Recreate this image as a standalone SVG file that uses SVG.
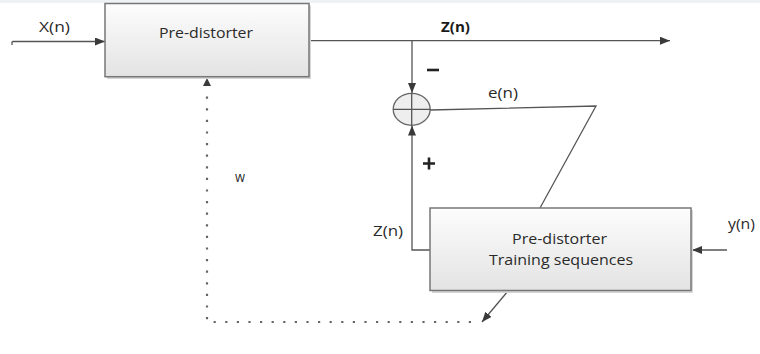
<svg xmlns="http://www.w3.org/2000/svg" width="760" height="354" viewBox="0 0 760 354">
  <defs>
    <linearGradient id="boxfill" x1="0" y1="0" x2="0" y2="1">
      <stop offset="0" stop-color="#fdfdfd"/>
      <stop offset="1" stop-color="#e3e3e3"/>
    </linearGradient>
    <marker id="arr" viewBox="0 0 10 8" refX="10" refY="4" markerWidth="10" markerHeight="8" markerUnits="userSpaceOnUse" orient="auto">
      <path d="M0,0 L10,4 L0,8 Z" fill="#3a3a3a"/>
    </marker>
    <style>
      .box { fill: url(#boxfill); stroke: #777; stroke-width: 1.5; }
      .shadow { fill: #d6d6d6; }
      .ln { fill: none; stroke: #555; stroke-width: 1.3; }
      .dot { fill: none; stroke: #666; stroke-width: 2.2; stroke-dasharray: 2.2 9.4; }
      .t { font-family: "Open Sans", "Noto Sans", sans-serif; font-size: 14px; fill: #2a2a2a; }
      .tb { font-family: "Open Sans", "Noto Sans", sans-serif; font-size: 14px; font-weight: bold; fill: #1a1a1a; }
      .sign { stroke: #222; stroke-width: 2.6; fill: none; }
    </style>
  </defs>
  <rect x="0" y="0" width="760" height="354" fill="#ffffff"/>
  <rect x="0" y="0" width="760" height="3" fill="#eff1f4"/>

  <g id="connectors">
    <path class="ln" d="M12,45 L12,42.5 Q12,41.5 13,41.5 L105,41.5" marker-end="url(#arr)"/>
    <path class="ln" d="M309,40.7 L670,40.7" marker-end="url(#arr)"/>
    <path class="ln" d="M412,40.7 L412,93" marker-end="url(#arr)"/>
    <path class="ln" d="M430,250 L412,250 L412,125.5" marker-end="url(#arr)"/>
    <path class="ln" d="M430,110 L596,106 L540,208"/>
    <path class="ln" d="M727,250 L692,250" marker-end="url(#arr)"/>
    <path class="ln" d="M508,291 L482,322" marker-end="url(#arr)"/>
    <path class="dot" d="M471,322 L207,322 L207,88"/>
    <path d="M203,86 L207,78 L211,86 Z" fill="#3a3a3a"/>
  </g>

  <g id="predistorter">
    <rect class="shadow" x="107" y="5.5" width="204" height="73.5"/>
    <rect class="box" x="105" y="3.5" width="204" height="73.2"/>
    <text class="t" x="206" y="38" text-anchor="middle" textLength="94" lengthAdjust="spacingAndGlyphs">Pre-distorter</text>
  </g>

  <g id="summer">
    <ellipse cx="411.7" cy="109.3" rx="18.5" ry="16" fill="#eeeeee" stroke="#666" stroke-width="1.3"/>
    <path class="ln" d="M393.2,109.3 L430.2,109.3 M411.7,93.3 L411.7,125.3"/>
  </g>

  <g id="trainer">
    <rect class="shadow" x="432" y="210" width="261" height="83"/>
    <rect class="box" x="430" y="208" width="261" height="82.5"/>
    <text class="t" x="559.5" y="244" text-anchor="middle" textLength="95" lengthAdjust="spacingAndGlyphs">Pre-distorter</text>
    <text class="t" x="561" y="265" text-anchor="middle" textLength="144" lengthAdjust="spacingAndGlyphs">Training sequences</text>
  </g>

  <g id="labels">
    <text class="t" x="39" y="31.5" textLength="31" lengthAdjust="spacingAndGlyphs">X(n)</text>
    <text class="tb" x="441" y="31.5" textLength="29" lengthAdjust="spacingAndGlyphs">Z(n)</text>
    <text class="t" x="488" y="98" textLength="30" lengthAdjust="spacingAndGlyphs">e(n)</text>
    <text class="t" x="373" y="235.5" textLength="30" lengthAdjust="spacingAndGlyphs">Z(n)</text>
    <text class="t" x="728" y="228.5" textLength="27" lengthAdjust="spacingAndGlyphs">y(n)</text>
    <text class="t" x="235" y="181.5" font-size="13" textLength="10" lengthAdjust="spacingAndGlyphs">w</text>
    <path class="sign" d="M427,70 L439,70"/>
    <path class="sign" d="M423,163.5 L435,163.5 M429,157.5 L429,169.5" stroke-width="2"/>
  </g>
</svg>
